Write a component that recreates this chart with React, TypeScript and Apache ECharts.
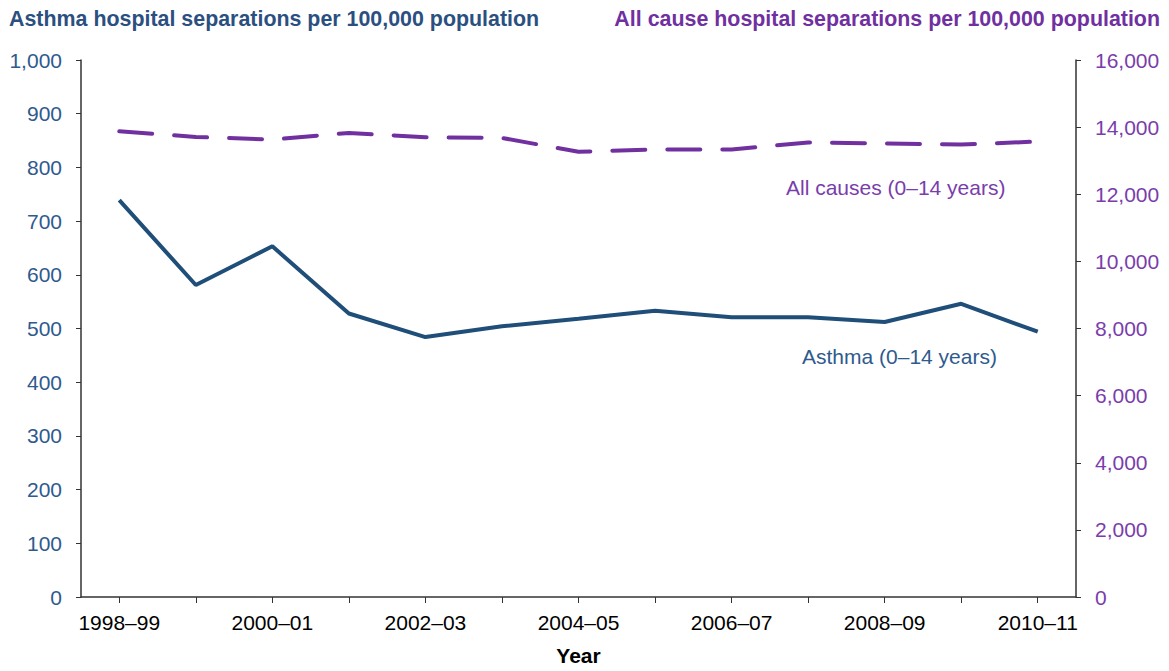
import React, { useEffect, useRef } from "react";
import * as echarts from "echarts";

const years = [
  "1998–99", "1999–00", "2000–01", "2001–02", "2002–03", "2003–04", "2004–05",
  "2005–06", "2006–07", "2007–08", "2008–09", "2009–10", "2010–11",
];
const asthma = [739, 581, 653, 528, 484, 504, 518, 533, 521, 521, 512, 546, 494];
const allCauses = [13876, 13708, 13630, 13827, 13698, 13679, 13264, 13333, 13333, 13541, 13511, 13481, 13570];

const leftTitle = "Asthma hospital separations per 100,000 population";
const rightTitle = "All cause hospital separations per 100,000 population";
const asthmaLabel = "Asthma (0–14 years)";
const allLabel = "All causes (0–14 years)";

const BLUE = "#1F4E79";
const BLUE_TXT = "#2E5A8E";
const PURPLE = "#7030A0";
const PURPLE_TXT = "#7A3DAB";
const FONT = "Liberation Sans, Arial, sans-serif";
const FS = 21;
const TITLE_FS = 21.4;

const fmt = (v: number) => v.toLocaleString("en-US");

export default function App() {
  const ref = useRef<HTMLDivElement>(null);
  useEffect(() => {
    if (!ref.current) return;
    const chart = echarts.init(ref.current, null, { renderer: "svg" });
    chart.setOption({
      animation: false,
      backgroundColor: "#fff",
      textStyle: { fontFamily: FONT },
      title: [
        {
          text: leftTitle,
          left: 9,
          top: 8,
          padding: 0,
          textStyle: { color: "#2B5080", fontSize: TITLE_FS, fontWeight: "bold", fontFamily: FONT },
        },
        {
          text: rightTitle,
          right: 9,
          top: 8,
          padding: 0,
          textStyle: { color: PURPLE, fontSize: TITLE_FS, fontWeight: "bold", fontFamily: FONT },
        },
      ],
      grid: { left: 81, right: 93, top: 60, bottom: 71, containLabel: false },
      xAxis: {
        type: "category",
        data: years,
        boundaryGap: true,
        name: "Year",
        nameLocation: "middle",
        nameGap: 48,
        nameTextStyle: { color: "#000", fontWeight: "bold", fontSize: FS, fontFamily: FONT },
        axisLine: { lineStyle: { color: "#333", width: 1.5 } },
        axisTick: { show: true, alignWithLabel: true, interval: 0, length: 6, lineStyle: { color: "#333" } },
        axisLabel: { interval: 1, color: "#000", fontSize: FS, margin: 15, fontFamily: FONT },
        splitLine: { show: false },
      },
      yAxis: [
        {
          type: "value",
          min: 0,
          max: 1000,
          interval: 100,
          position: "left",
          axisLine: { show: true, lineStyle: { color: "#333", width: 1.5 } },
          axisTick: { show: true, length: 5, lineStyle: { color: "#333" } },
          axisLabel: { color: BLUE_TXT, fontSize: FS, margin: 19, formatter: fmt, fontFamily: FONT },
          splitLine: { show: false },
        },
        {
          type: "value",
          min: 0,
          max: 16000,
          interval: 2000,
          position: "right",
          axisLine: { show: true, lineStyle: { color: "#333", width: 1.5 } },
          axisTick: { show: true, length: 5, lineStyle: { color: "#333" } },
          axisLabel: { color: PURPLE_TXT, fontSize: FS, margin: 19, formatter: fmt, fontFamily: FONT },
          splitLine: { show: false },
        },
      ],
      series: [
        {
          name: "All causes",
          type: "line",
          yAxisIndex: 1,
          data: allCauses,
          symbol: "none",
          lineStyle: { color: PURPLE, width: 4, type: [33, 22], cap: "round" },
        },
        {
          name: "Asthma",
          type: "line",
          yAxisIndex: 0,
          data: asthma,
          symbol: "none",
          lineStyle: { color: BLUE, width: 4 },
        },
      ],
      graphic: [
        {
          type: "text",
          left: 786,
          top: 177,
          style: { text: allLabel, fill: PURPLE_TXT, fontSize: FS, fontFamily: FONT },
        },
        {
          type: "text",
          left: 802,
          top: 346,
          style: { text: asthmaLabel, fill: BLUE_TXT, fontSize: FS, fontFamily: FONT },
        },
      ],
    });
    return () => chart.dispose();
  }, []);
  return <div ref={ref} style={{ width: 1169, height: 671, position: "absolute", left: 0, top: 0 }} />;
}
